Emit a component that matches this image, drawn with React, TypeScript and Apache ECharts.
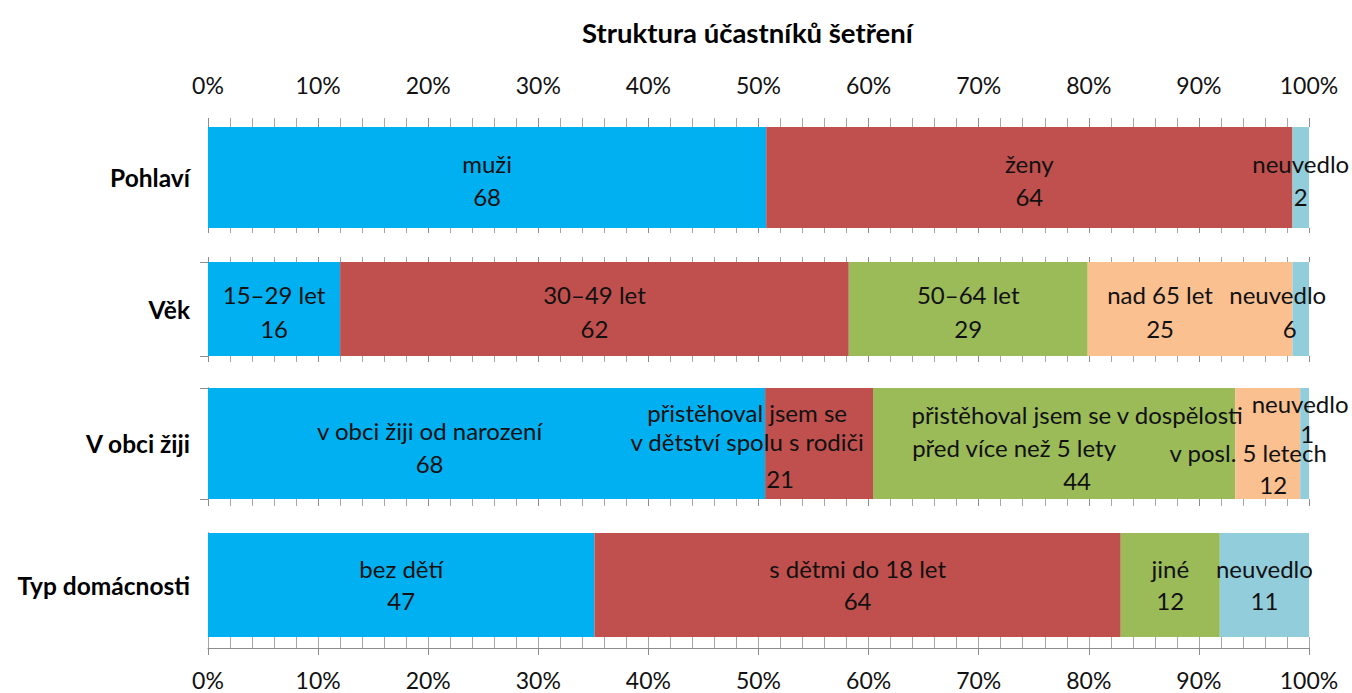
import React, { useEffect, useRef } from 'react';
import * as echarts from 'echarts';

// ---------- DATA ----------
const chartTitle = 'Struktura účastníků šetření';
const rowNames = ['Pohlaví', 'Věk', 'V obci žiji', 'Typ domácnosti'];

const pohlaviNames = ['muži', 'ženy', 'neuvedlo'];
const pohlaviCounts = [68, 64, 2];
const pohlaviShares = [50.7, 47.8, 1.5];

const vekNames = ['15–29 let', '30–49 let', '50–64 let', 'nad 65 let', 'neuvedlo'];
const vekCounts = [16, 62, 29, 25, 6];
const vekShares = [12.0, 46.2, 21.7, 18.6, 1.5];

const obecNames = [
  'v obci žiji od narození',
  'přistěhoval jsem se\nv dětství spolu s rodiči',
  'přistěhoval jsem se v dospělosti\npřed více než 5 lety',
  'v posl. 5 letech',
  'neuvedlo',
];
const obecCounts = [68, 21, 44, 12, 1];
const obecShares = [50.6, 9.8, 32.9, 5.9, 0.8];

const domNames = ['bez dětí', 's dětmi do 18 let', 'jiné', 'neuvedlo'];
const domCounts = [47, 64, 12, 11];
const domShares = [35.1, 47.8, 9.0, 8.1];

// ---------- STYLES ----------
const FONT = 'Lato, "Open Sans", sans-serif';
const TEXT = '#111111';
const AXIS = '#8c8c8c';
const MINOR = '#a6a6a6';
const BLUE = '#00B0F0';
const RED = '#C0504D';
const GREEN = '#9BBB59';
const ORANGE = '#FAC090';
const LIGHT = '#92CDDC';
const LABEL_SIZE = 24;

const rows = [
  { names: pohlaviNames, counts: pohlaviCounts, shares: pohlaviShares, colors: [BLUE, RED, LIGHT] },
  { names: vekNames, counts: vekCounts, shares: vekShares, colors: [BLUE, RED, GREEN, ORANGE, LIGHT] },
  { names: obecNames, counts: obecCounts, shares: obecShares, colors: [BLUE, RED, GREEN, ORANGE, LIGHT] },
  { names: domNames, counts: domCounts, shares: domShares, colors: [BLUE, RED, GREEN, LIGHT] },
];

const layout = [
  { top: 127, height: 101, topTick: 9, bottomTick: 5, yTick: false },
  { top: 262, height: 94, topTick: 5, bottomTick: 6, yTick: true },
  { top: 388, height: 111, topTick: 0, bottomTick: 7, yTick: true },
  { top: 533, height: 104, topTick: 0, bottomTick: 0, yTick: false },
];
const GRID_LEFT = 208;
const GRID_RIGHT = 43;

// per-segment label style: offset, line heights, per-line padding [right, left]
type LStyle = { offset: number[]; lh: number[]; pad?: number[][] };
const labelStyles: LStyle[][] = [
  [
    { offset: [0, 2], lh: [33, 33] },
    { offset: [0, 2], lh: [33, 33] },
    { offset: [0, 2], lh: [33, 33] },
  ],
  [
    { offset: [0, 2], lh: [34, 34] },
    { offset: [0, 2], lh: [34, 34] },
    { offset: [0, 2], lh: [34, 34] },
    { offset: [-30, 2], lh: [34, 34] },
    { offset: [-23, 2], lh: [34, 34], pad: [[0, 0], [0, 24]] },
  ],
  [
    { offset: [-57, 3], lh: [33, 33] },
    { offset: [-72, 5.5], lh: [29, 29, 45], pad: [[0, 0], [0, 0], [0, 66]] },
    { offset: [23, 3.5], lh: [33, 33, 33], pad: [[0, 0], [126, 0], [0, 0]] },
    { offset: [-19.5, 24.5], lh: [32, 32], pad: [[0, 0], [0, 50]] },
    { offset: [-4.5, -25.5], lh: [30, 30], pad: [[0, 0], [0, 14]] },
  ],
  [
    { offset: [0, -1], lh: [32, 32] },
    { offset: [0, -1], lh: [32, 32] },
    { offset: [0, -1], lh: [32, 32] },
    { offset: [0, -1], lh: [32, 32] },
  ],
];

function buildOption() {
  const grid: any[] = [];
  const xAxis: any[] = [];
  const yAxis: any[] = [];
  const series: any[] = [];

  const valueAxis = (gridIndex: number, position: string, tickLen: number, extra: any = {}) => ({
    type: 'value',
    gridIndex,
    position,
    min: 0,
    max: 100,
    interval: 10,
    axisLine: { show: false },
    axisTick: { show: tickLen > 0, length: tickLen, lineStyle: { color: AXIS, width: 1 } },
    minorTick: { show: tickLen > 0, splitNumber: 5, length: tickLen, lineStyle: { color: MINOR, width: 1 } },
    splitLine: { show: false },
    minorSplitLine: { show: false },
    axisLabel: { show: false },
    ...extra,
  });

  const tickLabel = (margin: number) => ({
    show: true,
    margin,
    formatter: '{value}%',
    fontFamily: FONT,
    fontSize: 23,
    color: TEXT,
  });

  rows.forEach((row, r) => {
    const L = layout[r];
    grid.push({ left: GRID_LEFT, right: GRID_RIGHT, top: L.top, height: L.height, containLabel: false });

    // top axis (index 2r), bottom axis (index 2r+1)
    xAxis.push(valueAxis(r, 'top', L.topTick, r === 0 ? { axisLabel: tickLabel(31) } : {}));
    if (r < 3) {
      xAxis.push(valueAxis(r, 'bottom', L.bottomTick));
    } else {
      xAxis.push(
        valueAxis(r, 'bottom', 11, {
          offset: 11,
          axisLine: { show: true, lineStyle: { color: AXIS, width: 1 } },
          axisTick: { show: true, inside: true, length: 11, lineStyle: { color: MINOR, width: 1 } },
          minorTick: { show: true, splitNumber: 5, length: 11, lineStyle: { color: MINOR, width: 1 } },
        })
      );
    }

    yAxis.push({
      type: 'category',
      gridIndex: r,
      position: 'left',
      data: [rowNames[r]],
      axisLine: { show: true, lineStyle: { color: AXIS, width: 1 } },
      axisTick: { show: L.yTick, length: 8, lineStyle: { color: AXIS } },
      axisLabel: { margin: 18, fontFamily: FONT, fontWeight: 'bold', fontSize: 24.5, color: '#000' },
    });

    row.shares.forEach((share, i) => {
      const st = labelStyles[r][i];
      const lines = row.names[i].split('\n').concat(String(row.counts[i]));
      const rich: any = {};
      lines.forEach((_, k) => {
        const p = st.pad && st.pad[k] ? st.pad[k] : [0, 0];
        rich['l' + k] = {
          fontFamily: FONT,
          fontSize: LABEL_SIZE,
          color: TEXT,
          lineHeight: st.lh[k] || 33,
          padding: [0, p[0], 0, p[1]],
        };
      });
      series.push({
        type: 'bar',
        name: row.names[i],
        stack: 'row' + r,
        xAxisIndex: 2 * r + 1,
        yAxisIndex: r,
        barWidth: '100%',
        itemStyle: { color: row.colors[i] },
        label: {
          show: true,
          position: 'inside',
          offset: st.offset,
          formatter: lines.map((t, k) => '{l' + k + '|' + t + '}').join('\n'),
          rich,
          fontFamily: FONT,
          fontSize: LABEL_SIZE,
          color: TEXT,
          textBorderWidth: 0,
        },
        data: [share],
      });
    });
  });

  // right-hand vertical lines (100 %)
  rows.forEach((_, r) => {
    yAxis.push({
      type: 'category',
      gridIndex: r,
      position: 'right',
      data: [rowNames[r]],
      axisLine: { show: true, lineStyle: { color: AXIS, width: 1 } },
      axisTick: { show: false },
      axisLabel: { show: false },
    });
  });

  // extra bottom axis for row 4 with outward major ticks and labels
  xAxis.push(
    valueAxis(3, 'bottom', 7, {
      offset: 11,
      minorTick: { show: false },
      axisLabel: tickLabel(20),
    })
  );

  return {
    animation: false,
    backgroundColor: '#ffffff',
    title: {
      text: chartTitle,
      left: 577,
      top: 13,
      textStyle: { fontFamily: FONT, fontSize: 27.5, fontWeight: 'bold', color: '#000' },
    },
    grid,
    xAxis,
    yAxis,
    series,
  };
}

export default function App() {
  const ref = useRef<HTMLDivElement>(null);
  useEffect(() => {
    document.body.style.margin = '0';
    if (!ref.current) return;
    const chart = echarts.init(ref.current, undefined, { renderer: 'svg' });
    chart.setOption(buildOption() as any);
    return () => chart.dispose();
  }, []);
  return <div ref={ref} style={{ width: 1352, height: 693 }} />;
}
